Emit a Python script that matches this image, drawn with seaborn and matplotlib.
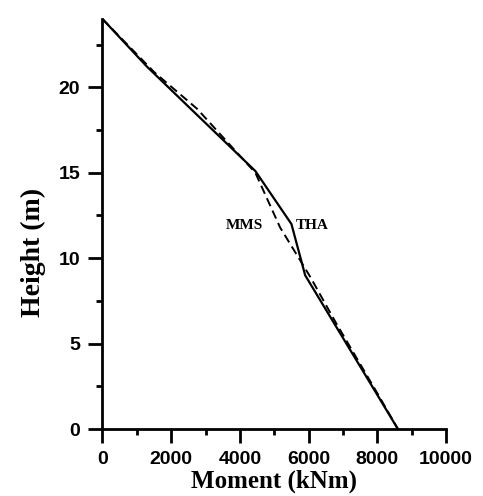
import numpy as np
import pandas as pd
import matplotlib
matplotlib.use("Agg")
import matplotlib.pyplot as plt
import seaborn as sns
from matplotlib.ticker import MultipleLocator

# THA (solid) and MMS (dashed) moment envelopes
tha_moment = [0, 1300, 4450, 5500, 5900, 8600]
tha_height = [24, 21.2, 15.1, 12.0, 9.0, 0]
mms_moment = [0, 1500, 2750, 4450, 5170, 6050, 6800, 8000, 8600]
mms_height = [24, 20.9, 18.75, 15.0, 11.8, 8.9, 6.2, 2.1, 0]

tha = pd.DataFrame({"Moment": tha_moment, "Height": tha_height})
mms = pd.DataFrame({"Moment": mms_moment, "Height": mms_height})

sns.set_style("ticks")
plt.rcParams.update({"text.color": "black", "axes.labelcolor": "black",
                     "xtick.color": "black", "ytick.color": "black",
                     "axes.edgecolor": "black"})
fig = plt.figure(figsize=(4.83, 4.96), dpi=100)
ax = fig.add_axes([0.2122, 0.135, 0.7112, 0.8267])

sns.lineplot(data=tha, x="Moment", y="Height", sort=False, color="black",
             lw=1.6, ax=ax)
sns.lineplot(data=mms, x="Moment", y="Height", sort=False, color="black",
             lw=1.4, linestyle=(0, (4.5, 2.5)), ax=ax)

ax.text(4680, 11.9, "MMS", ha="right", va="center", fontsize=11,
        fontweight="bold", family="Liberation Serif")
ax.text(5630, 11.9, "THA", ha="left", va="center", fontsize=11,
        fontweight="bold", family="Liberation Serif")

ax.set_xlim(0, 10000)
ax.set_ylim(0, 24)
ax.xaxis.set_major_locator(MultipleLocator(2000))
ax.xaxis.set_minor_locator(MultipleLocator(1000))
ax.yaxis.set_major_locator(MultipleLocator(5))
ax.yaxis.set_minor_locator(MultipleLocator(2.5))
ax.tick_params(which="major", length=10, width=2, direction="out", pad=6)
ax.tick_params(which="minor", length=4, width=2, direction="out")
for lab in ax.get_xticklabels() + ax.get_yticklabels():
    lab.set_fontfamily("Liberation Sans")
    lab.set_fontweight("bold")
    lab.set_fontsize(14)

sns.despine(ax=ax)
for s in ["left", "bottom"]:
    ax.spines[s].set_linewidth(2)

ax.set_xlabel("Moment (kNm)", fontsize=18, fontweight="bold",
              family="Liberation Serif", labelpad=1)
ax.set_ylabel("Height (m)", fontsize=20, fontweight="bold",
              family="Liberation Serif")
ax.yaxis.set_label_coords(-0.165, 0.43)

fig.savefig("out.png", dpi=100)
